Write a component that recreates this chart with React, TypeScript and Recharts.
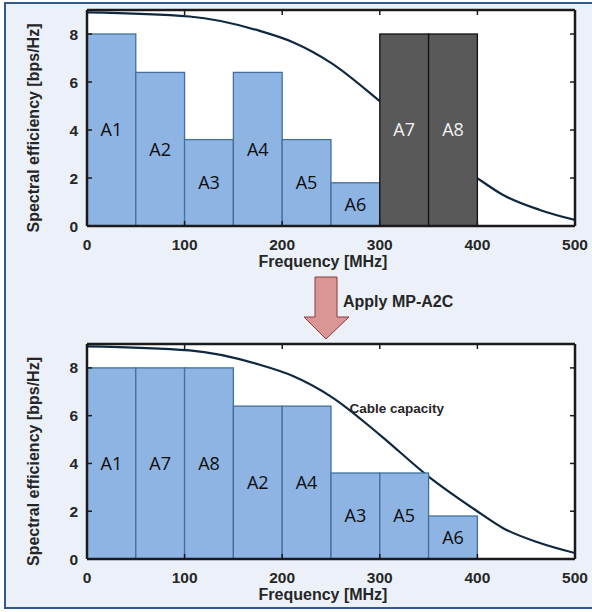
import React from 'react'
import { ComposedChart, Bar, Line, XAxis, YAxis, CartesianGrid, LabelList, ReferenceDot } from 'recharts'

// band plan before reallocation (start frequency of each 50 MHz band)
const topBands = ['A1', 'A2', 'A3', 'A4', 'A5', 'A6', 'A7', 'A8']
const topEff = [8, 6.4, 3.6, 6.4, 3.6, 1.8, 8, 8]
const topStart = [0, 50, 100, 150, 200, 250, 300, 350]
const newBands = ['A7', 'A8']

// band plan after MP-A2C
const bottomBands = ['A1', 'A7', 'A8', 'A2', 'A4', 'A3', 'A5', 'A6']
const bottomEff = [8, 8, 8, 6.4, 6.4, 3.6, 3.6, 1.8]
const bottomStart = [0, 50, 100, 150, 200, 250, 300, 350]
const bandMHz = 50

// cable capacity curve
const capFreq = [0, 105, 177, 211, 250, 300, 350, 398, 426, 464, 500]
const capEff = [8.9, 8.73, 8.13, 7.66, 6.8, 5.2, 3.45, 2.05, 1.3, 0.67, 0.25]

const freqTicks = [0, 100, 200, 300, 400, 500]
const effTicks = [0, 2, 4, 6, 8]
const capNote = { text: 'Cable capacity', f: 270, eff: 6.07 }

const W = 592
const LEFT_W = 87
const MARGIN = { top: 9, right: 16, left: 0, bottom: 0 }
const PLOT_W = W - LEFT_W - 1 - MARGIN.right
const BAR_W = (PLOT_W * bandMHz) / 500

const INK = '#262626'
const AXIS = '#1a1a1a'
const FONT = "'Liberation Sans', Arial, sans-serif"

const capRows = capFreq.map((f, i) => ({ f, cap: capEff[i] }))

const BottomTick = ({ x, y, payload }: any) => (
  <g>
    <line x1={x} x2={x} y1={y} y2={y - 5} stroke={AXIS} strokeWidth={1.5} />
    <text x={x} y={y + 24} textAnchor="middle" fill={INK} fontSize={15.5} fontWeight="bold" fontFamily={FONT}>
      {payload.value}
    </text>
  </g>
)
const LeftTick = ({ x, y, payload }: any) => (
  <g>
    <line x1={x} x2={x + 5} y1={y} y2={y} stroke={AXIS} strokeWidth={1.5} />
    <text x={x - 9} y={y} dy="0.36em" textAnchor="end" fill={INK} fontSize={15.5} fontWeight="bold" fontFamily={FONT}>
      {payload.value}
    </text>
  </g>
)
const RightTick = ({ x, y }: any) => <line x1={x} x2={x - 5} y1={y} y2={y} stroke={AXIS} strokeWidth={1.5} />
const TopTick = ({ x, y }: any) => <line x1={x} x2={x} y1={y} y2={y + 5} stroke={AXIS} strokeWidth={1.5} />

// shared axis frame; `bare` keeps the geometry but draws nothing (for the under-layer)
function Axes({ xAxisHeight, bare }: any) {
  const line = bare ? false : { stroke: AXIS, strokeWidth: 2.5 }
  return [
    <XAxis key="b" xAxisId="b" dataKey="f" type="number" domain={[0, 500]} ticks={freqTicks} allowDataOverflow
      height={xAxisHeight} tickSize={0} tickMargin={0} tickLine={false} tick={bare ? false : BottomTick} interval={0}
      axisLine={line}
      label={bare ? undefined : (p: any) => {
        const vb = p.viewBox
        return (
          <text x={vb.x + vb.width / 2 - 8} y={vb.y + 41} textAnchor="middle" fill={INK}
            fontSize={16} fontWeight="bold" fontFamily={FONT}>Frequency [MHz]</text>
        )
      }} />,
    <XAxis key="t" xAxisId="t" orientation="top" dataKey="f" type="number" domain={[0, 500]} ticks={freqTicks}
      allowDataOverflow height={1} tickSize={0} tickMargin={0} tickLine={false} tick={bare ? false : TopTick}
      interval={0} axisLine={line} />,
    <YAxis key="l" yAxisId="l" type="number" domain={[0, 9]} ticks={effTicks} allowDataOverflow width={LEFT_W}
      tickSize={0} tickMargin={0} tickLine={false} tick={bare ? false : LeftTick} interval={0}
      axisLine={line}
      label={bare ? undefined : (p: any) => {
        const vb = p.viewBox
        const cx = vb.x + 33
        const cy = vb.y + vb.height / 2 + 10
        return (
          <text x={cx} y={cy} transform={`rotate(-90, ${cx}, ${cy})`} textAnchor="middle" dy="0.35em"
            fill={INK} fontSize={16} fontWeight="bold" fontFamily={FONT}>Spectral efficiency [bps/Hz]</text>
        )
      }} />,
    <YAxis key="r" yAxisId="r" orientation="right" type="number" domain={[0, 9]} ticks={effTicks} allowDataOverflow
      width={1} tickSize={0} tickMargin={0} tickLine={false} tick={bare ? false : RightTick} interval={0}
      axisLine={line} />,
  ]
}

function Spectrum({ bands, eff, start, height, xAxisHeight, highlight, note }: any) {
  const rows = bands.map((name: string, i: number) => ({ name, f: start[i] + bandMHz / 2, eff: eff[i] }))

  const shape = (p: any) => {
    const dark = highlight.includes(p.payload?.name)
    const cx = p.x + p.width / 2
    return (
      <rect x={cx - BAR_W / 2} y={p.y} width={BAR_W} height={p.height}
        fill={dark ? '#595959' : '#8eb4e3'} stroke={dark ? '#111' : '#41719c'} strokeWidth={1.3} />
    )
  }

  return (
    <div style={{ position: 'relative', width: W, height }}>
      {/* under-layer: plot background and capacity curve, so the bands sit on top of it */}
      <div style={{ position: 'absolute', left: 0, top: 0 }}>
        <ComposedChart width={W} height={height} data={rows} margin={MARGIN}>
          <CartesianGrid fill="#fff" horizontal={false} vertical={false} xAxisId="b" yAxisId="l" />
          <Line data={capRows} dataKey="cap" xAxisId="b" yAxisId="l" type="monotone" stroke="#0e2841"
            strokeWidth={2.2} dot={false} activeDot={false} isAnimationActive={false} />
          {Axes({ xAxisHeight, bare: true })}
        </ComposedChart>
      </div>
      <div style={{ position: 'absolute', left: 0, top: 0 }}>
        <ComposedChart width={W} height={height} data={rows} margin={MARGIN} style={{ fontFamily: FONT }}>
          <Bar dataKey="eff" xAxisId="b" yAxisId="l" shape={shape} isAnimationActive={false}>
            <LabelList dataKey="name" content={(p: any) => (
              <text x={p.x + p.width / 2} y={p.y + p.height / 2} dy="0.36em" textAnchor="middle"
                fontFamily="'Open Sans', sans-serif" fontSize={18}
                fill={highlight.includes(p.value) ? '#f2f2f2' : '#0d0d0d'}>{p.value}</text>
            )} />
          </Bar>
          {note && (
            <ReferenceDot x={note.f} y={note.eff} xAxisId="b" yAxisId="l" r={1} fill="none" stroke="none"
              label={(p: any) => (
                <text x={p.viewBox.x} y={p.viewBox.y} fill={INK} fontSize={13.5} fontWeight="bold" fontFamily={FONT}>
                  {note.text}
                </text>
              )} />
          )}
          {Axes({ xAxisHeight, bare: false })}
        </ComposedChart>
      </div>
    </div>
  )
}

export default function App() {
  return (
    <div style={{ position: 'absolute', left: 0, top: 0, width: W, height: 612, background: '#fff', overflow: 'hidden' }}>
      <div style={{
        position: 'absolute', left: 4, top: 2, width: 588, height: 607, boxSizing: 'border-box',
        background: '#ecf1f9', borderTop: '2px solid #2f5a8e', borderLeft: '2px solid #2f5a8e',
        borderBottom: '2px solid #2f5a8e',
      }} />
      <div style={{ position: 'absolute', left: 0, top: 0 }}>
        <Spectrum bands={topBands} eff={topEff} start={topStart} height={280} xAxisHeight={54} highlight={newBands} />
      </div>
      <div style={{ position: 'absolute', left: 0, top: 334 }}>
        <Spectrum bands={bottomBands} eff={bottomEff} start={bottomStart} height={278} xAxisHeight={53}
          highlight={[]} note={capNote} />
      </div>
      <svg width={W} height={612} style={{ position: 'absolute', left: 0, top: 0, pointerEvents: 'none' }}>
        <polygon points="315,277 337,277 337,317 349,317 326,339 304,317 315,317"
          fill="#d99694" stroke="#8c3b3b" strokeWidth={1} />
        <text x={343} y={307} fill={INK} fontSize={16} fontWeight="bold" fontFamily={FONT}>Apply MP-A2C</text>
      </svg>
    </div>
  )
}
